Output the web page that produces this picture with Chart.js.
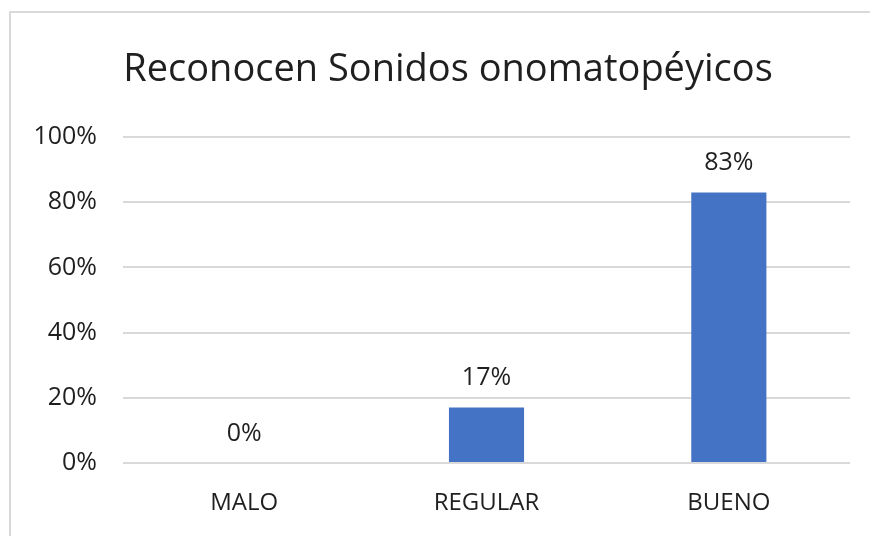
<!DOCTYPE html>
<html>
<head>
<meta charset="utf-8">
<script src="https://cdn.jsdelivr.net/npm/chart.js@4/dist/chart.umd.min.js"></script>
<style>
  html, body { margin: 0; padding: 0; background: #ffffff; }
  #wrap { position: relative; width: 870px; height: 536px; overflow: hidden; }
  #frame { position: absolute; left: 9px; top: 11px; width: 900px; height: 600px;
           border: 2px solid #d9d9d9; box-sizing: border-box; }
  canvas { position: absolute; left: 0; top: 0; }
</style>
</head>
<body>
<div id="wrap">
  <div id="frame"></div>
  <canvas id="c" width="870" height="536"></canvas>
</div>
<script>
const chartTitle = "Reconocen Sonidos onomatopéyicos";
const categories = ["MALO", "REGULAR", "BUENO"];
const values = [0, 17, 83];
const yTicks = [0, 20, 40, 60, 80, 100];

const FONT = "'Open Sans', 'Liberation Sans', sans-serif";
const TEXT = "#1f1f1f";

const titlePlugin = {
  id: 'customTitle',
  afterDraw(chart) {
    const ctx = chart.ctx;
    ctx.save();
    ctx.font = "38px " + FONT;
    ctx.fillStyle = TEXT;
    ctx.textAlign = "center";
    ctx.textBaseline = "middle";
    ctx.fillText(chartTitle, 448, 70);
    ctx.restore();
  }
};

const labelPlugin = {
  id: 'valueLabels',
  afterDatasetsDraw(chart) {
    const ctx = chart.ctx;
    const meta = chart.getDatasetMeta(0);
    ctx.save();
    ctx.font = "25px " + FONT;
    ctx.fillStyle = TEXT;
    ctx.textAlign = "center";
    ctx.textBaseline = "bottom";
    meta.data.forEach((bar, i) => {
      ctx.fillText(values[i] + "%", bar.x, bar.y - 17);
    });
    ctx.restore();
  }
};

new Chart(document.getElementById('c'), {
  type: 'bar',
  data: {
    labels: categories,
    datasets: [{
      data: values,
      backgroundColor: '#4472C4',
      borderWidth: 0,
      barPercentage: 0.62,
      categoryPercentage: 0.5
    }]
  },
  options: {
    responsive: false,
    animation: false,
    devicePixelRatio: 1,
    layout: { padding: { left: 0, right: 20, top: 137, bottom: 0 } },
    plugins: {
      legend: { display: false },
      title: { display: false },
      tooltip: { enabled: false }
    },
    scales: {
      x: {
        grid: { display: false, drawTicks: false },
        border: { display: false },
        ticks: { color: TEXT, font: { family: FONT, size: 24 }, padding: 26 },
        afterFit(s) { s.height = 73; }
      },
      y: {
        min: 0, max: 100,
        afterBuildTicks(s) { s.ticks = yTicks.map(v => ({ value: v })); },
        grid: { color: '#d9d9d9', lineWidth: 2, drawTicks: false },
        border: { display: false },
        ticks: {
          color: TEXT, font: { family: FONT, size: 25 }, padding: 26,
          callback: v => v + '%'
        },
        afterFit(s) { s.width = 123; }
      }
    }
  },
  plugins: [titlePlugin, labelPlugin]
});
</script>
</body>
</html>
